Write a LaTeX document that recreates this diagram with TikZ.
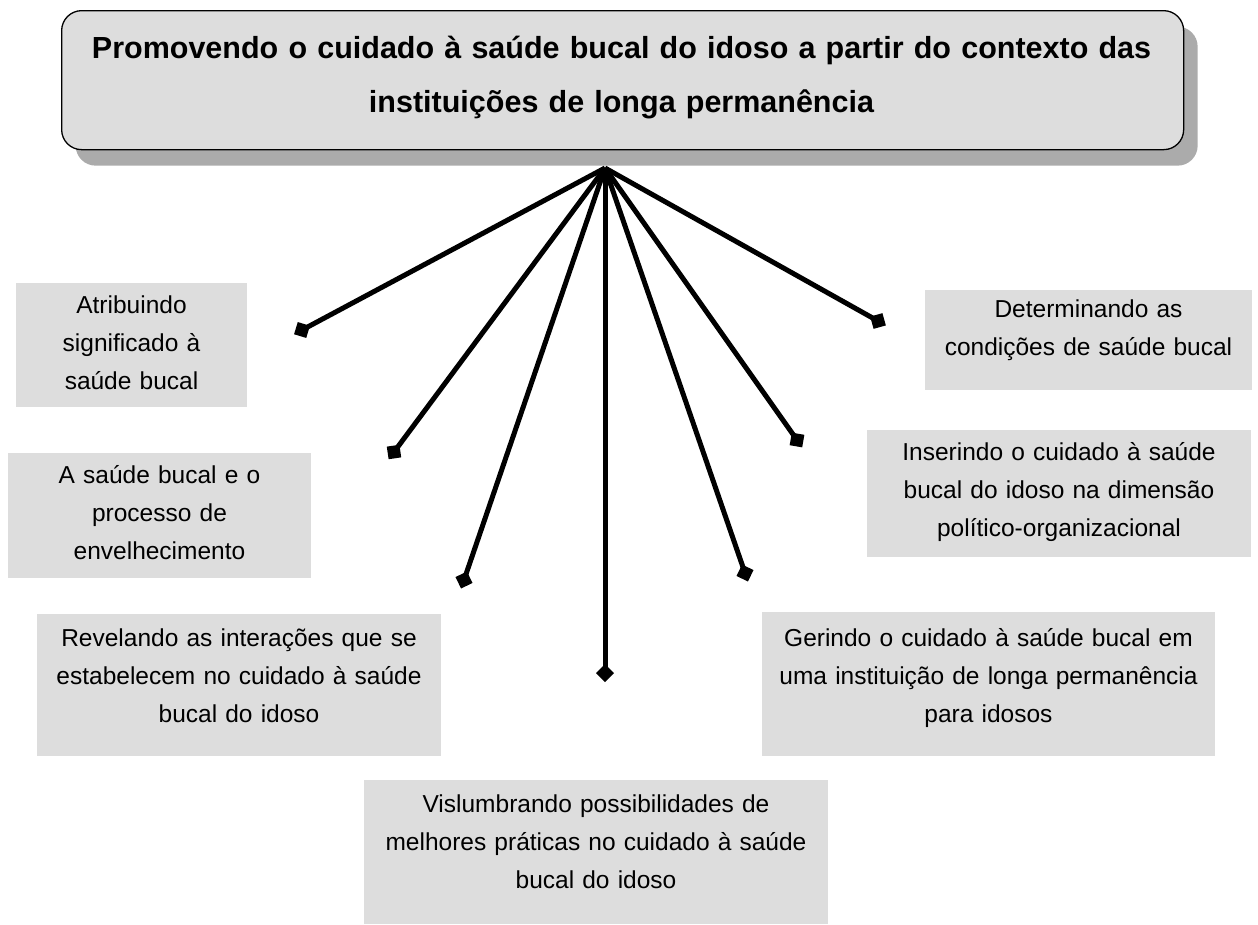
\documentclass[tikz,border=0pt]{standalone}
\usepackage{fontspec}
\setmainfont{Liberation Sans}
\usetikzlibrary{arrows.meta,shadows}
\definecolor{boxgray}{HTML}{DDDDDD}
\definecolor{shadowgray}{HTML}{ABABAB}
\tikzset{
  gbox/.style={fill=boxgray, draw=none, inner sep=0pt, anchor=north west},
  txt/.style={inner sep=0pt, align=center, anchor=base, font=\fontsize{24.5}{38.3}\selectfont},
  titlebox/.style={rounded corners=20pt, fill=boxgray, draw=black, line width=1.3pt, inner sep=0pt, anchor=north west,
    drop shadow={shadow xshift=14pt, shadow yshift=-16pt, fill=shadowgray, opacity=1}},
  titletxt/.style={inner sep=0pt, align=center, anchor=base, text width=1100pt, font=\bfseries\fontsize{30.5}{54}\selectfont},
  spoke/.style={line width=5pt, shorten >=-9pt, -{Diamond[length=18pt,width=18pt]}},
}
\begin{document}
\begin{tikzpicture}[x=1pt,y=-1pt]
\useasboundingbox (0,0) rectangle (1258,924);

% title
\node[titlebox, minimum width=1122pt, minimum height=139pt] (title) at (61,10) {};
\node[titletxt] (titletext) at (621.5,58) {Promovendo o cuidado à saúde bucal do idoso a partir do contexto das\\instituições de longa permanência};

% boxes
\node[gbox, minimum width=231pt, minimum height=124pt] (b1) at (16,283) {};
\node[txt, text width=231pt] (t1) at (131.5,313) {Atribuindo\\significado à\\saúde bucal};

\node[gbox, minimum width=303pt, minimum height=125pt] (b2) at (8,453) {};
\node[txt, text width=303pt] (t2) at (159.5,483) {A saúde bucal e o\\processo de\\envelhecimento};

\node[gbox, minimum width=404pt, minimum height=142pt] (b3) at (37,614) {};
\node[txt, text width=404pt] (t3) at (239,646) {Revelando as interações que se\\estabelecem no cuidado à saúde\\bucal do idoso};

\node[gbox, minimum width=464pt, minimum height=144pt] (b4) at (364,780) {};
\node[txt, text width=464pt] (t4) at (596,812) {Vislumbrando possibilidades de\\melhores práticas no cuidado à saúde\\bucal do idoso};

\node[gbox, minimum width=453pt, minimum height=144pt] (b5) at (762,612) {};
\node[txt, text width=453pt] (t5) at (988.5,646) {Gerindo o cuidado à saúde bucal em\\uma instituição de longa permanência\\para idosos};

\node[gbox, minimum width=384pt, minimum height=127pt] (b6) at (867,430) {};
\node[txt, text width=384pt] (t6) at (1059,460) {Inserindo o cuidado à saúde\\bucal do idoso na dimensão\\político-organizacional};

\node[gbox, minimum width=327pt, minimum height=100pt] (b7) at (925,290) {};
\node[txt, text width=327pt] (t7) at (1088.5,317) {Determinando as\\condições de saúde bucal};

% spokes
\coordinate (hub) at (605,168);
\coordinate (d1) at (302,330);
\coordinate (d2) at (394,452);
\coordinate (d3) at (464,580);
\coordinate (d4) at (605,673);
\coordinate (d5) at (745,573);
\coordinate (d6) at (797,440);
\coordinate (d7) at (878,321);
\foreach \d in {d1,d2,d3,d4,d5,d6,d7}{
  \draw[spoke] (hub) -- (\d);
}
\end{tikzpicture}
\end{document}
